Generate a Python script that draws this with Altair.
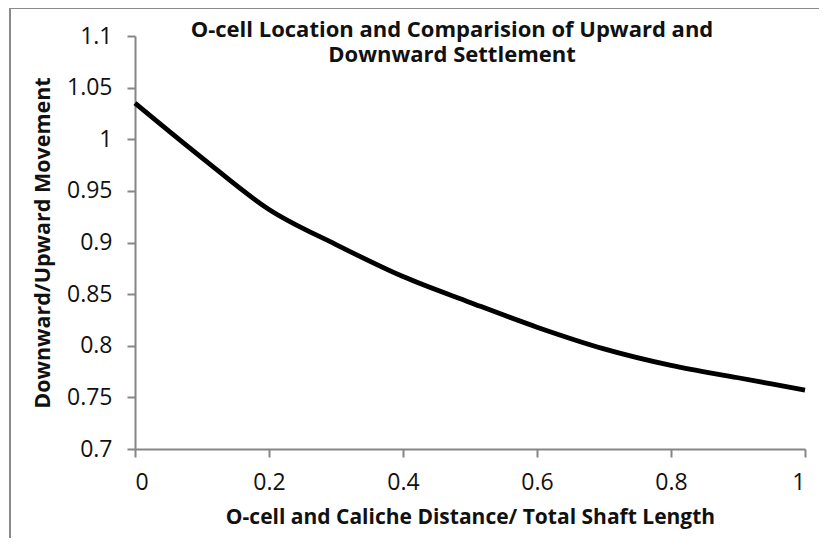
import altair as alt
import pandas as pd

x_vals = [0.0, 0.1, 0.2, 0.3, 0.4, 0.5, 0.6, 0.7, 0.8, 0.9, 1.0]
y_vals = [1.035, 0.982, 0.932, 0.898, 0.867, 0.842, 0.818, 0.797, 0.781, 0.769, 0.757]
x_ticks = [0, 0.2, 0.4, 0.6, 0.8, 1]
y_ticks = [0.7, 0.75, 0.8, 0.85, 0.9, 0.95, 1, 1.05, 1.1]

title_lines = ["O-cell Location and Comparision of Upward and", "Downward Settlement"]
x_title = "O-cell and Caliche Distance/ Total Shaft Length"
y_title = "Downward/Upward Movement"

df = pd.DataFrame({"x": x_vals, "y": y_vals})

FONT = "Open Sans"
AXIS_GRAY = "#868686"
TEXT = "#111111"

line = alt.Chart(df).mark_line(color="black", strokeWidth=4.8, interpolate="monotone").encode(
    x=alt.X("x:Q", scale=alt.Scale(domain=[0, 1], nice=False),
            axis=alt.Axis(title=x_title, values=x_ticks, format="~g", grid=False,
                          domainColor=AXIS_GRAY, domainWidth=2, tickColor=AXIS_GRAY, tickWidth=2,
                          tickSize=8, labelFont=FONT, labelFontSize=23, labelColor=TEXT,
                          labelPadding=14, titleFont=FONT, titleFontSize=21, titleFontWeight="bold",
                          titleColor=TEXT, titlePadding=12)),
    y=alt.Y("y:Q", scale=alt.Scale(domain=[0.7, 1.1], nice=False, zero=False),
            axis=alt.Axis(title=y_title, values=y_ticks, format="~g", grid=False,
                          domainColor=AXIS_GRAY, domainWidth=2, tickColor=AXIS_GRAY, tickWidth=2,
                          tickSize=8, labelFont=FONT, labelFontSize=23, labelColor=TEXT,
                          labelPadding=15, titleFont=FONT, titleFontSize=21.5, titleFontWeight="bold",
                          titleColor=TEXT, titlePadding=12)),
)

frame_left = alt.Chart(df).mark_rule(color="#8a8a8a", strokeWidth=1.5).encode(
    x=alt.value(-125), y=alt.value(-28), y2=alt.value(520))
frame_top = alt.Chart(df).mark_rule(color="#8a8a8a", strokeWidth=1.5).encode(
    x=alt.value(-125), x2=alt.value(720), y=alt.value(-28))

chart = alt.layer(frame_left, frame_top, line).properties(
    width=670, height=413,
    title=alt.TitleParams(text=title_lines, font=FONT, fontSize=22, fontWeight="bold",
                          color=TEXT, anchor="middle", dx=-18, offset=-60, lineHeight=25),
    autosize=alt.AutoSizeParams(type="none"),
    padding={"left": 127, "top": 28, "right": 14, "bottom": 89},
).configure_view(stroke=None)

chart.save("out.html", embed_options={"renderer": "svg", "actions": False})
